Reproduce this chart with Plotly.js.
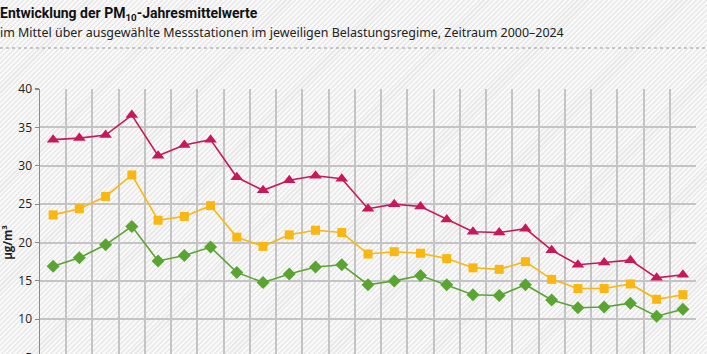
<!DOCTYPE html>
<html>
<head>
<meta charset="utf-8">
<script src="https://cdn.plot.ly/plotly-3.0.1.min.js"></script>
<style>
html,body{margin:0;padding:0;width:707px;height:354px;overflow:hidden;}
body{background-color:#f6f6f6;background-image:repeating-linear-gradient(135deg,#f9f9f9 0px,#f9f9f9 2px,#e9e9e9 2px,#e9e9e9 3.5px);}
#chart{width:707px;height:440px;}
</style>
</head>
<body>
<div id="chart"></div>
<script>
const years = [2000,2001,2002,2003,2004,2005,2006,2007,2008,2009,2010,2011,2012,2013,2014,2015,2016,2017,2018,2019,2020,2021,2022,2023,2024];
const verkehrsnah = [33.4,33.6,34.0,36.6,31.3,32.7,33.4,28.5,26.8,28.1,28.7,28.3,24.4,25.0,24.7,23.0,21.4,21.3,21.8,19.0,17.1,17.4,17.7,15.4,15.8];
const staedtisch = [23.6,24.4,26.0,28.8,22.9,23.4,24.8,20.7,19.5,21.0,21.6,21.3,18.5,18.8,18.6,17.9,16.7,16.5,17.5,15.2,14.0,14.0,14.6,12.6,13.2];
const laendlich = [16.9,18.0,19.7,22.1,17.6,18.3,19.4,16.1,14.8,15.9,16.8,17.1,14.5,15.0,15.7,14.5,13.2,13.1,14.5,12.5,11.5,11.6,12.1,10.4,11.3];
const yTicks = [0,5,10,15,20,25,30,35,40];

const lineW = 1.6;
const traces = [
  {x: years, y: laendlich, mode:'lines+markers', name:'ländlicher Hintergrund',
   line:{color:'#5aa532', width:lineW}, marker:{symbol:'diamond', size:10, color:'#5aa532'}},
  {x: years, y: staedtisch, mode:'lines+markers', name:'städtischer Hintergrund',
   line:{color:'#f9b712', width:lineW}, marker:{symbol:'square', size:9, color:'#f9b712'}},
  {x: years, y: verkehrsnah, mode:'lines+markers', name:'verkehrsnah',
   line:{color:'#c8185a', width:lineW}, marker:{symbol:'triangle-up', size:11, color:'#c8185a'}}
];

const H = 440, T = 89, B = 44;
const plotH = H - T - B;
const layout = {
  width: 707, height: H,
  margin: {l:40, r:11, t:T, b:B, pad:0},
  paper_bgcolor: 'rgba(0,0,0,0)',
  plot_bgcolor: 'rgba(0,0,0,0)',
  showlegend: false,
  font: {family:'"Open Sans", "DejaVu Sans", sans-serif', color:'#222'},
  title: {text:'<b>Entwicklung der PM<sub>10</sub>-Jahresmittelwerte</b>', x:0, xref:'container', xanchor:'left',
          y:1-13/H, yref:'container', yanchor:'middle',
          font:{family:'"Liberation Sans Narrow", Roboto, sans-serif', size:14, color:'#111'}},
  annotations: [
    {text:'im Mittel über ausgewählte Messstationen im jeweiligen Belastungsregime, Zeitraum 2000–2024',
     xref:'paper', yref:'paper', x:-42/656, y:1+(89-33)/plotH, xanchor:'left', yanchor:'middle', showarrow:false,
     font:{family:'"Noto Sans", sans-serif', size:12.45, color:'#222'}},
  ],
  shapes: [
    {type:'line', xref:'paper', yref:'paper', x0:-40/656, x1:1+11/656, y0:1+(89-48)/plotH, y1:1+(89-48)/plotH,
     line:{color:'#999', width:1, dash:'dot'}}
  ],
  xaxis: {
    range:[1999.5, 2024.5], tickvals: years,
    showgrid:false, zeroline:false, showline:false, ticks:'', showticklabels:false
  },
  xaxis2: {
    overlaying:'x', range:[1999.5, 2024.5], tickmode:'linear', tick0:1999.5, dtick:1,
    showgrid:true, gridcolor:'#c4c4c4', gridwidth:2, showticklabels:false, ticks:'', zeroline:false, showline:false
  },
  yaxis: {
    range:[0,40], tickvals: yTicks, showgrid:true, gridcolor:'#c4c4c4', gridwidth:2,
    zeroline:false, showline:true, linecolor:'#8a8a8a', linewidth:1.5,
    ticks:'outside', ticklen:4, tickcolor:'#8a8a8a', tickwidth:1.2,
    tickfont:{size:12, color:'#222'},
    title:{text:'<b>µg/m³</b>', standoff:8, font:{size:11.5, color:'#222'}}
  }
};
traces.unshift({x:[years[0]], y:[null], xaxis:'x2', mode:'markers', hoverinfo:'skip', showlegend:false});
Plotly.newPlot('chart', traces, layout, {staticPlot:true, displayModeBar:false});
</script>
</body>
</html>
